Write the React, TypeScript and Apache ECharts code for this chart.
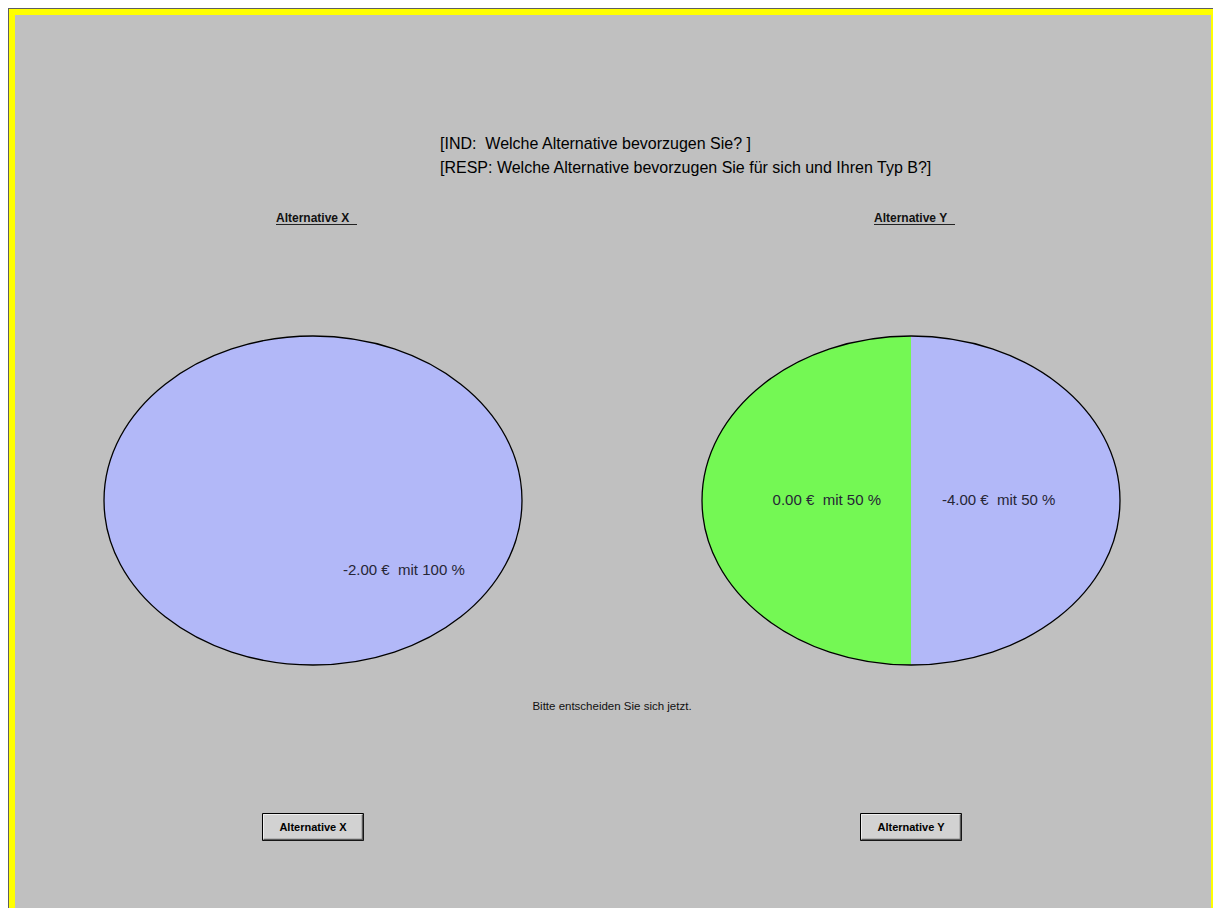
import React, { useEffect, useRef } from "react";
import * as echarts from "echarts";

// ---- data ----
const alternatives = ["Alternative X", "Alternative Y"];
const altXPayoffs = [-2.0];
const altXProbs = [100];
const altYPayoffs = [0.0, -4.0];
const altYProbs = [50, 50];
const titleLines = [
  "[IND:  Welche Alternative bevorzugen Sie? ]",
  "[RESP: Welche Alternative bevorzugen Sie für sich und Ihren Typ B?]",
];
const promptText = "Bitte entscheiden Sie sich jetzt.";

// ---- styles / layout ----
const FONT = "'Liberation Sans', Arial, Helvetica, sans-serif";
const BLUE = "#B2B8F8";
const GREEN = "#74F854";
const altXColors = [BLUE];
const altYColors = [GREEN, BLUE];
const RX = 209;
const RY = 164.5;
const CY = 492.5;
const centersX = [305, 903];
const labelOffsets = [
  [[30, 68.5, "left"]],
  [
    [-30, -1.5, "right"],
    [31, -1.5, "left"],
  ],
];

function cumulative(arr: number[]) {
  const out: number[] = [];
  let s = 0;
  for (const v of arr) {
    out.push(s);
    s += v;
  }
  return out;
}

function makePieSeries(
  idx: number,
  probs: number[],
  payoffs: number[],
  colors: string[]
) {
  const cum = cumulative(probs);
  const cx = centersX[idx];
  return {
    type: "custom",
    coordinateSystem: "none",
    name: alternatives[idx],
    data: probs.map((p, i) => [p, cum[i], payoffs[i]]),
    renderItem: (params: any, api: any) => {
      const i = params.dataIndex;
      const p = api.value(0);
      const start = api.value(1);
      const pay = api.value(2);
      const a0 = ((90 + start * 3.6) * Math.PI) / 180;
      const a1 = ((90 + (start + p) * 3.6) * Math.PI) / 180;
      const off = labelOffsets[idx][i];
      const children: any[] = [
        {
          type: "sector",
          x: cx,
          y: CY,
          scaleY: RY / RX,
          shape: {
            cx: 0,
            cy: 0,
            r0: 0,
            r: RX,
            startAngle: -a1,
            endAngle: -a0,
            clockwise: true,
          },
          style: { fill: colors[i] },
        },
        {
          type: "text",
          x: cx + (off[0] as number),
          y: CY + (off[1] as number),
          z2: 20,
          style: {
            text: `${pay.toFixed(2)} €  mit ${p} %`,
            fill: "#262636",
            font: `15px ${FONT}`,
            align: off[2],
            verticalAlign: "middle",
          },
        },
      ];
      if (i === params.dataInsideLength - 1) {
        children.push({
          type: "ellipse",
          z2: 30,
          shape: { cx, cy: CY, rx: RX, ry: RY },
          style: { fill: "none", stroke: "#000", lineWidth: 1.3 },
        });
      }
      return { type: "group", children };
    },
  };
}

function header(idx: number) {
  const x = centersX[idx] - 37;
  return [
    {
      type: "text",
      x,
      y: 210,
      style: {
        text: alternatives[idx],
        fill: "#111",
        font: `bold 12px ${FONT}`,
        align: "left",
        verticalAlign: "middle",
      },
    },
    {
      type: "line",
      shape: { x1: x, y1: 216.5, x2: x + 81, y2: 216.5 },
      style: { stroke: "#222", lineWidth: 1 },
    },
  ];
}

function button(idx: number) {
  const bx = centersX[idx] - 51;
  const by = 805;
  const bw = 102;
  const bh = 28;
  return [
    {
      type: "rect",
      shape: { x: bx + 0.5, y: by + 0.5, width: bw - 1, height: bh - 1 },
      style: { fill: "#D2D2D2", stroke: "#000", lineWidth: 1 },
    },
    {
      type: "polyline",
      shape: {
        points: [
          [bx + 1.5, by + bh - 2],
          [bx + 1.5, by + 1.5],
          [bx + bw - 2, by + 1.5],
        ],
      },
      style: { stroke: "#EEEEEE", lineWidth: 1, fill: "none" },
    },
    {
      type: "polyline",
      shape: {
        points: [
          [bx + 1.5, by + bh - 1.5],
          [bx + bw - 1.5, by + bh - 1.5],
          [bx + bw - 1.5, by + 1.5],
        ],
      },
      style: { stroke: "#5A5A5A", lineWidth: 1.5, fill: "none" },
    },
    {
      type: "text",
      x: centersX[idx],
      y: by + bh / 2,
      style: {
        text: alternatives[idx],
        fill: "#000",
        font: `bold 11px ${FONT}`,
        align: "center",
        verticalAlign: "middle",
      },
    },
  ];
}

export default function App() {
  const ref = useRef<HTMLDivElement>(null);
  useEffect(() => {
    document.documentElement.style.overflow = "hidden";
    if (!ref.current) return;
    const chart = echarts.init(ref.current, undefined, { renderer: "svg" });
    const W = chart.getWidth();
    const H = chart.getHeight();
    chart.setOption({
      animation: false,
      backgroundColor: "#FFFF00",
      graphic: [
        {
          type: "rect",
          z: -10,
          shape: { x: 0, y: 0, width: W, height: 1 },
          style: { fill: "#5E5E5E" },
        },
        {
          type: "rect",
          z: -10,
          shape: { x: 0, y: 0, width: 1, height: H },
          style: { fill: "#5E5E5E" },
        },
        {
          type: "rect",
          z: -10,
          shape: { x: 7, y: 7, width: W - 9, height: H - 7 },
          style: { fill: "#C0C0C0" },
        },
        ...titleLines.map((t, i) => ({
          type: "text",
          x: 432,
          y: 135.5 + i * 24,
          style: {
            text: t,
            fill: "#000",
            font: `16px ${FONT}`,
            align: "left",
            verticalAlign: "middle",
          },
        })),
        ...header(0),
        ...header(1),
        {
          type: "text",
          x: 604,
          y: 698,
          style: {
            text: promptText,
            fill: "#111",
            font: `11.5px ${FONT}`,
            align: "center",
            verticalAlign: "middle",
          },
        },
        ...button(0),
        ...button(1),
      ],
      series: [
        makePieSeries(0, altXProbs, altXPayoffs, altXColors),
        makePieSeries(1, altYProbs, altYPayoffs, altYColors),
      ],
    });
    return () => chart.dispose();
  }, []);
  return (
    <div
      ref={ref}
      style={{ position: "fixed", left: 8, top: 8, right: 0, bottom: 0 }}
    />
  );
}
